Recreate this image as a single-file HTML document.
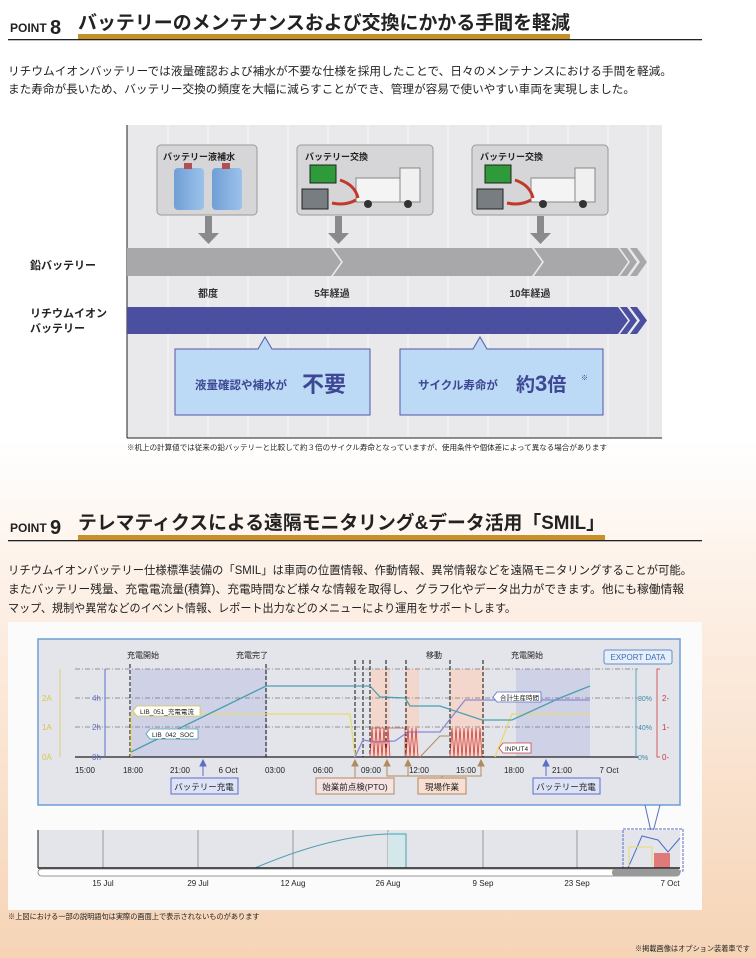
<!DOCTYPE html>
<html><head><meta charset="utf-8"><style>
html,body{margin:0;padding:0;width:756px;height:958px;overflow:hidden;background:#fff}
svg{display:block}
text{font-family:"Liberation Sans","Noto Sans CJK JP",sans-serif}
</style></head><body>
<svg width="756" height="958" viewBox="0 0 756 958" xmlns="http://www.w3.org/2000/svg">
<defs>
<linearGradient id="bg" x1="0" y1="0" x2="0" y2="1">
<stop offset="0" stop-color="#ffffff"/><stop offset="0.46" stop-color="#ffffff"/>
<stop offset="0.6" stop-color="#fdf1e8"/><stop offset="1" stop-color="#f6d4b6"/></linearGradient>
<linearGradient id="jug" x1="0" x2="1"><stop offset="0" stop-color="#6f9fd6"/><stop offset="1" stop-color="#9cc2ea"/></linearGradient>
</defs>
<rect width="756" height="958" fill="url(#bg)"/>

<!-- POINT 8 header -->
<text x="10" y="32" font-size="12" font-weight="bold" fill="#222">POINT</text>
<text x="50" y="34" font-size="20" font-weight="bold" fill="#222">8</text>
<text x="78" y="29" font-size="19" font-weight="bold" fill="#222" textLength="492" lengthAdjust="spacingAndGlyphs">バッテリーのメンテナンスおよび交換にかかる手間を軽減</text>
<rect x="78" y="34" width="492" height="5" fill="#c8902a"/>
<rect x="8" y="39" width="694" height="1.3" fill="#222"/>
<text x="8" y="75" font-size="11.5" fill="#222" textLength="664" lengthAdjust="spacingAndGlyphs">リチウムイオンバッテリーでは液量確認および補水が不要な仕様を採用したことで、日々のメンテナンスにおける手間を軽減。</text>
<text x="8" y="93" font-size="11.5" fill="#222" textLength="627" lengthAdjust="spacingAndGlyphs">また寿命が長いため、バッテリー交換の頻度を大幅に減らすことができ、管理が容易で使いやすい車両を実現しました。</text>

<!-- diagram panel -->
<rect x="127" y="125" width="535" height="313" fill="#e9e9eb"/>
<g stroke="#f6f6f7" stroke-width="1">
<line x1="168" y1="125" x2="168" y2="438"/><line x1="208" y1="125" x2="208" y2="438"/><line x1="248" y1="125" x2="248" y2="438"/><line x1="288" y1="125" x2="288" y2="438"/><line x1="328" y1="125" x2="328" y2="438"/><line x1="368" y1="125" x2="368" y2="438"/><line x1="408" y1="125" x2="408" y2="438"/><line x1="448" y1="125" x2="448" y2="438"/><line x1="488" y1="125" x2="488" y2="438"/><line x1="528" y1="125" x2="528" y2="438"/><line x1="568" y1="125" x2="568" y2="438"/><line x1="608" y1="125" x2="608" y2="438"/><line x1="648" y1="125" x2="648" y2="438"/>
</g>
<line x1="127" y1="125" x2="127" y2="438" stroke="#222" stroke-width="1"/>
<line x1="127" y1="438" x2="662" y2="438" stroke="#222" stroke-width="1"/>

<!-- boxes -->
<rect x="157" y="145" width="100" height="70" rx="4" fill="#d6d6d8" stroke="#999" stroke-width="1"/>
<text x="163" y="160" font-size="9" font-weight="bold" fill="#222">バッテリー液補水</text>
<rect x="174" y="168" width="30" height="42" rx="4" fill="url(#jug)"/><rect x="184" y="163" width="8" height="6" fill="#b05050"/>
<rect x="212" y="168" width="30" height="42" rx="4" fill="url(#jug)"/><rect x="222" y="163" width="8" height="6" fill="#b05050"/>

<rect x="297" y="145" width="136" height="70" rx="4" fill="#d6d6d8" stroke="#999"/>
<text x="305" y="160" font-size="9" font-weight="bold" fill="#222">バッテリー交換</text>
<rect x="310" y="165" width="26" height="18" fill="#2f9a3a" stroke="#222"/>
<rect x="302" y="189" width="26" height="20" fill="#777d80" stroke="#222"/>
<rect x="356" y="178" width="50" height="24" fill="#f4f4f4" stroke="#888"/>
<rect x="400" y="168" width="20" height="34" fill="#f0f0f0" stroke="#888"/>
<circle cx="368" cy="204" r="4" fill="#333"/><circle cx="408" cy="204" r="4" fill="#333"/>
<path d="M340 180 Q355 185 358 198" fill="none" stroke="#c0392b" stroke-width="3"/>
<path d="M356 200 Q345 206 332 203" fill="none" stroke="#c0392b" stroke-width="3"/>

<rect x="472" y="145" width="136" height="70" rx="4" fill="#d6d6d8" stroke="#999"/>
<text x="480" y="160" font-size="9" font-weight="bold" fill="#222">バッテリー交換</text>
<rect x="485" y="165" width="26" height="18" fill="#2f9a3a" stroke="#222"/>
<rect x="477" y="189" width="26" height="20" fill="#777d80" stroke="#222"/>
<rect x="531" y="178" width="50" height="24" fill="#f4f4f4" stroke="#888"/>
<rect x="575" y="168" width="20" height="34" fill="#f0f0f0" stroke="#888"/>
<circle cx="543" cy="204" r="4" fill="#333"/><circle cx="583" cy="204" r="4" fill="#333"/>
<path d="M515 180 Q530 185 533 198" fill="none" stroke="#c0392b" stroke-width="3"/>
<path d="M531 200 Q520 206 507 203" fill="none" stroke="#c0392b" stroke-width="3"/>

<!-- down arrows -->
<g fill="#8a8a8c">
<rect x="205" y="216" width="7" height="18"/><polygon points="198,233 219,233 208.5,244"/>
<rect x="335" y="216" width="7" height="18"/><polygon points="328,233 349,233 338.5,244"/>
<rect x="537" y="216" width="7" height="18"/><polygon points="530,233 551,233 540.5,244"/>
</g>

<!-- lead bar -->
<polygon points="127,248 331,248 341,262 331,276 127,276" fill="#a8a8aa"/>
<polygon points="333,248 532,248 542,262 532,276 343,276 333,276 343,262" fill="#a8a8aa"/>
<polygon points="534,248 618,248 628,262 618,276 544,276 534,276 544,262" fill="#a8a8aa"/>
<polygon points="620,248 627,248 637,262 627,276 620,276 630,262" fill="#a8a8aa"/>
<polygon points="630,248 637,248 647,262 637,276 630,276 640,262" fill="#a8a8aa"/>
<text x="30" y="269" font-size="11" font-weight="bold" fill="#222">鉛バッテリー</text>
<text x="208" y="297" font-size="10" font-weight="bold" fill="#333" text-anchor="middle">都度</text>
<text x="332" y="297" font-size="10" font-weight="bold" fill="#333" text-anchor="middle">5年経過</text>
<text x="530" y="297" font-size="10" font-weight="bold" fill="#333" text-anchor="middle">10年経過</text>

<!-- lithium bar -->
<polygon points="127,307 618,307 628,320.5 618,334 127,334" fill="#4a4fa0"/>
<polygon points="620,307 627,307 637,320.5 627,334 620,334 630,320.5" fill="#4a4fa0"/>
<polygon points="630,307 637,307 647,320.5 637,334 630,334 640,320.5" fill="#4a4fa0"/>
<text x="30" y="317" font-size="11" font-weight="bold" fill="#222">リチウムイオン</text>
<text x="30" y="332" font-size="11" font-weight="bold" fill="#222">バッテリー</text>

<!-- callouts -->
<path d="M175 349 L258 349 L265 337 L272 349 L370 349 L370 415 L175 415 Z" fill="#bcd9f5" stroke="#5358a8" stroke-width="1"/>
<text x="195" y="389" font-size="11.5" font-weight="bold" fill="#3d4794">液量確認や補水が</text>
<text x="302" y="392" font-size="22" font-weight="bold" fill="#3d4794">不要</text>
<path d="M400 349 L473 349 L480 337 L487 349 L603 349 L603 415 L400 415 Z" fill="#bcd9f5" stroke="#5358a8" stroke-width="1"/>
<text x="418" y="389" font-size="11.5" font-weight="bold" fill="#3d4794">サイクル寿命が</text>
<text x="516" y="391" font-size="19" font-weight="bold" fill="#3d4794">約<tspan font-size="22">3</tspan>倍</text>
<text x="581" y="380" font-size="7" fill="#3d4794">※</text>
<text x="127" y="450" font-size="7.2" fill="#222" textLength="480" lengthAdjust="spacingAndGlyphs">※机上の計算値では従来の鉛バッテリーと比較して約３倍のサイクル寿命となっていますが、使用条件や個体差によって異なる場合があります</text>

<!-- POINT 9 header -->
<text x="10" y="532" font-size="12" font-weight="bold" fill="#222">POINT</text>
<text x="50" y="534" font-size="20" font-weight="bold" fill="#222">9</text>
<text x="78" y="529" font-size="19" font-weight="bold" fill="#222" textLength="527" lengthAdjust="spacingAndGlyphs">テレマティクスによる遠隔モニタリング&amp;データ活用「SMIL」</text>
<rect x="78" y="535" width="527" height="5" fill="#c8902a"/>
<rect x="8" y="540" width="694" height="1.3" fill="#222"/>
<text x="8" y="574" font-size="11.5" fill="#222" textLength="684" lengthAdjust="spacingAndGlyphs">リチウムイオンバッテリー仕様標準装備の「SMIL」は車両の位置情報、作動情報、異常情報などを遠隔モニタリングすることが可能。</text>
<text x="8" y="593" font-size="11.5" fill="#222" textLength="676" lengthAdjust="spacingAndGlyphs">またバッテリー残量、充電電流量(積算)、充電時間など様々な情報を取得し、グラフ化やデータ出力ができます。他にも稼働情報</text>
<text x="8" y="612" font-size="11.5" fill="#222" textLength="508" lengthAdjust="spacingAndGlyphs">マップ、規制や異常などのイベント情報、レポート出力などのメニューにより運用をサポートします。</text>

<!-- chart outer panel -->
<rect x="8" y="622" width="694" height="288" fill="#fbfbfb"/>
<rect x="38" y="639" width="642" height="166" fill="#e4e5ea" stroke="#6d9fd6" stroke-width="1.5"/>
<rect x="131" y="669" width="136" height="88" fill="#cfd1e6"/>
<rect x="516" y="669" width="74" height="88" fill="#cfd1e6"/>
<rect x="371" y="669" width="19" height="88" fill="#f4d7cc"/>
<rect x="405" y="669" width="14" height="88" fill="#f4d7cc"/>
<rect x="450" y="669" width="34" height="88" fill="#f4d7cc"/>
<g stroke="#777" stroke-width="0.7" stroke-dasharray="5,2,1,2">
<line x1="75" y1="669" x2="638" y2="669"/><line x1="75" y1="698" x2="638" y2="698"/><line x1="75" y1="727" x2="638" y2="727"/>
</g>
<line x1="75" y1="757" x2="638" y2="757" stroke="#222" stroke-width="1.2"/>
<line x1="105" y1="669" x2="105" y2="757" stroke="#5a6fc6"/>
<line x1="60" y1="669" x2="60" y2="757" stroke="#e0d070"/>
<line x1="636" y1="669" x2="636" y2="757" stroke="#5aa8c0"/>
<polyline points="660,669 657,669 657,757 660,757" fill="none" stroke="#d06060"/>
<g font-size="8" fill="#d9c54a"><text x="42" y="701">2A</text><text x="42" y="730">1A</text><text x="42" y="760">0A</text></g>
<g font-size="8" fill="#5a6fc6"><text x="92" y="701">4h</text><text x="92" y="730">2h</text><text x="92" y="760">0h</text></g>
<g font-size="7" fill="#3a8aa8"><text x="638" y="701">80%</text><text x="638" y="730">40%</text><text x="638" y="760">0%</text></g>
<g font-size="8" fill="#c04040"><text x="662" y="701">2-</text><text x="662" y="730">1-</text><text x="662" y="760">0-</text></g>
<g stroke="#111" stroke-width="1" stroke-dasharray="4,2">
<line x1="130" y1="664" x2="130" y2="757"/><line x1="266" y1="664" x2="266" y2="757"/>
<line x1="355" y1="660" x2="355" y2="757"/><line x1="363" y1="660" x2="363" y2="757"/><line x1="370" y1="660" x2="370" y2="757"/>
<line x1="386" y1="660" x2="386" y2="757"/><line x1="406" y1="660" x2="406" y2="757"/><line x1="450" y1="660" x2="450" y2="757"/><line x1="483" y1="660" x2="483" y2="757"/>
</g>
<g font-size="8" fill="#222" text-anchor="middle">
<text x="143" y="658">充電開始</text><text x="252" y="658">充電完了</text><text x="434" y="658">移動</text><text x="527" y="658">充電開始</text>
</g>
<rect x="604" y="650" width="68" height="14" rx="2" fill="#e8eef8" stroke="#5a8fd0"/>
<text x="638" y="660" font-size="8" fill="#3a6cb8" text-anchor="middle">EXPORT DATA</text>
<polyline points="131,757 131,714 350,714 355,757" fill="none" stroke="#e6da70" stroke-width="1.3"/>
<polyline points="495,757 512,714 590,714" fill="none" stroke="#e6da70" stroke-width="1.3"/>
<polyline points="131,752 266,686 370,686 380,697 405,698 410,706 440,706 482,720 512,720 560,698 590,686" fill="none" stroke="#4a9fb0" stroke-width="1.3"/>
<polyline points="355,757 363,740 375,742 395,741 408,732 440,732 465,700 590,700" fill="none" stroke="#8a88d8" stroke-width="1.3"/>
<polyline points="420,757 440,736 450,736" fill="none" stroke="#b08a60" stroke-width="1"/>
<polyline points="370,728 405,728 405,757" fill="none" stroke="#c06050" stroke-width="0.8"/>
<g stroke="#d04040" stroke-width="0.8" fill="none">
<polyline points="370,757 372,728 374,757 376,728 378,757 380,728 382,757 384,728 386,757 388,728 390,757"/>
<polyline points="406,757 408,728 410,757 412,728 414,757 416,728 418,757"/>
<polyline points="450,757 452,728 454,757 456,728 458,757 460,728 462,757 464,728 466,757 468,728 470,757 472,728 474,757 476,728 478,757 480,728 482,757"/>
</g>
<path d="M137 706 L200 706 L200 716 L137 716 L133 711 Z" fill="#fff" stroke="#d9c54a" stroke-width="0.8"/>
<text x="140" y="714" font-size="6.5" fill="#222">LIB_051_充電電流</text>
<path d="M150 729 L198 729 L198 739 L150 739 L146 734 Z" fill="#fff" stroke="#4a9fb0" stroke-width="0.8"/>
<text x="152" y="737" font-size="6.5" fill="#222">LIB_042_SOC</text>
<path d="M497 692 L541 692 L541 702 L497 702 L493 697 Z" fill="#fff" stroke="#5a6fc6" stroke-width="0.8"/>
<text x="500" y="700" font-size="6.5" fill="#222">合計生産時間</text>
<path d="M503 743 L531 743 L531 753 L503 753 L499 748 Z" fill="#fff" stroke="#d04040" stroke-width="0.8"/>
<text x="505" y="751" font-size="6.5" fill="#222">INPUT4</text>
<g font-size="8" fill="#222" text-anchor="middle">
<text x="85" y="773">15:00</text><text x="133" y="773">18:00</text><text x="180" y="773">21:00</text><text x="228" y="773">6 Oct</text><text x="275" y="773">03:00</text><text x="323" y="773">06:00</text><text x="371" y="773">09:00</text><text x="419" y="773">12:00</text><text x="466" y="773">15:00</text><text x="514" y="773">18:00</text><text x="562" y="773">21:00</text><text x="609" y="773">7 Oct</text>
</g>
<g stroke="#5a6fc6" fill="#5a6fc6"><line x1="203" y1="764" x2="203" y2="776"/><polygon points="200,766 206,766 203,760"/>
<line x1="546" y1="764" x2="546" y2="776"/><polygon points="543,766 549,766 546,760"/></g>
<g stroke="#b08a60" fill="#b08a60"><line x1="355" y1="764" x2="355" y2="780"/><polygon points="352,766 358,766 355,760"/>
<polygon points="384,766 390,766 387,760"/><polygon points="405,766 411,766 408,760"/><polygon points="478,766 484,766 481,760"/>
<polyline points="387,766 387,776 481,776 481,766" fill="none"/><line x1="408" y1="766" x2="408" y2="776"/><line x1="442" y1="776" x2="442" y2="780"/></g>
<rect x="171" y="778" width="67" height="16" fill="#dde2f6" stroke="#5a6fc6"/>
<text x="204" y="790" font-size="8.5" fill="#222" text-anchor="middle">バッテリー充電</text>
<rect x="316" y="778" width="78" height="16" fill="#f6e4e4" stroke="#b08a60"/>
<text x="355" y="790" font-size="8.5" fill="#222" text-anchor="middle">始業前点検(PTO)</text>
<rect x="418" y="778" width="48" height="16" fill="#f8dfd2" stroke="#b08a60"/>
<text x="442" y="790" font-size="8.5" fill="#222" text-anchor="middle">現場作業</text>
<rect x="533" y="778" width="67" height="16" fill="#dde2f6" stroke="#5a6fc6"/>
<text x="566" y="790" font-size="8.5" fill="#222" text-anchor="middle">バッテリー充電</text>
<path d="M645 805 L652 836 M660 805 L652 836" stroke="#5a6fc6" fill="none"/>

<!-- overview -->
<rect x="38" y="830" width="642" height="38" fill="#e4e5ea"/>
<g stroke="#888" stroke-width="0.8"><line x1="103" y1="830" x2="103" y2="868"/><line x1="198" y1="830" x2="198" y2="868"/><line x1="293" y1="830" x2="293" y2="868"/><line x1="388" y1="830" x2="388" y2="868"/><line x1="483" y1="830" x2="483" y2="868"/><line x1="577" y1="830" x2="577" y2="868"/></g>
<rect x="388" y="832" width="18" height="36" fill="#d4e8ec"/>
<path d="M255 868 Q330 836 388 834 L406 834 L406 868" fill="none" stroke="#4a9fb0" stroke-width="1"/>
<rect x="623" y="829" width="60" height="42" fill="none" stroke="#5a6fc6" stroke-dasharray="3,1"/>
<polyline points="628,868 642,836 658,840 668,852 680,838" fill="none" stroke="#4a6fc6"/>
<polyline points="629,866 629,847 652,847 652,866" fill="none" stroke="#e6da70"/>
<rect x="654" y="853" width="16" height="15" fill="#e07a7a"/>
<line x1="38" y1="830" x2="38" y2="868" stroke="#222"/>
<line x1="38" y1="868" x2="680" y2="868" stroke="#222" stroke-width="1.5"/>
<rect x="38" y="869" width="642" height="7" rx="3.5" fill="#fff" stroke="#777" stroke-width="0.8"/>
<rect x="612" y="869" width="68" height="7" rx="3" fill="#999"/>
<g font-size="8" fill="#222" text-anchor="middle"><text x="103" y="886">15 Jul</text><text x="198" y="886">29 Jul</text><text x="293" y="886">12 Aug</text><text x="388" y="886">26 Aug</text><text x="483" y="886">9 Sep</text><text x="577" y="886">23 Sep</text><text x="670" y="886">7 Oct</text></g>
<text x="8" y="919" font-size="7.2" fill="#222">※上図における一部の説明語句は実際の画面上で表示されないものがあります</text>
<text x="750" y="951" font-size="7.2" fill="#222" text-anchor="end">※掲載画像はオプション装着車です</text>
</svg>
</body></html>
